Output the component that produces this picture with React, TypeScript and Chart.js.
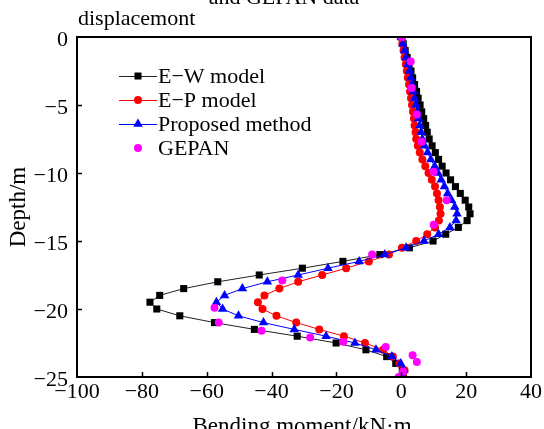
import React, { useEffect, useRef } from 'react';
import { Chart, registerables } from 'chart.js';

Chart.register(...registerables);

// ---- data ----
const titleLines = ['and GEPAN data', 'displacemont'];
const xTitle = 'Bending moment/kN\u00b7m';
const yTitle = 'Depth/m';
const xMin = -100;
const xMax = 40;
const xStep = 20;
const yMin = -25;
const yMax = 0;
const yStep = 5;

const seriesNames = ['E\u2212W model', 'E\u2212P model', 'Proposed method', 'GEPAN'];

const depths = [
  0, -0.5, -1, -1.5, -2, -2.5, -3, -3.5, -4, -4.5,
  -5, -5.5, -6, -6.5, -7, -7.5, -8, -8.5, -9, -9.5,
  -10, -10.5, -11, -11.5, -12, -12.5, -13, -13.5, -14, -14.5,
  -15, -15.5, -16, -16.5, -17, -17.5, -18, -18.5, -19, -19.5,
  -20, -20.5, -21, -21.5, -22, -22.5, -23, -23.5, -24, -24.5, -25,
];

const ewMoment = [
  0, 0.6, 1.2, 1.8, 2.4, 3.0, 3.5, 4.1, 4.7, 5.2,
  5.8, 6.3, 6.9, 7.5, 8.0, 8.6, 9.5, 10.5, 11.5, 12.6,
  13.8, 15.2, 16.7, 18.2, 19.7, 20.8, 21.2, 20.3, 17.6, 13.7,
  9.8, 2.5, -6.6, -18.0, -30.5, -43.8, -56.6, -67.1, -74.5, -77.5,
  -75.4, -68.3, -57.6, -45.3, -32.1, -20.1, -10.9, -4.5, -1.7, 0.3, 0.6,
];

const epMoment = [
  0, 0.3, 0.7, 1.0, 1.4, 1.7, 2.0, 2.4, 2.7, 3.0,
  3.3, 3.6, 3.9, 4.1, 4.4, 4.6, 5.1, 5.7, 6.5, 7.4,
  8.4, 9.4, 10.4, 11.0, 11.5, 11.9, 12.1, 11.6, 10.4, 8.0,
  4.6, 0.2, -3.8, -10.0, -17.0, -24.4, -31.8, -37.6, -42.2, -44.2,
  -42.8, -38.5, -32.4, -25.3, -17.7, -11.2, -5.6, -2.6, -0.6, 1.0, 0.6,
];

const proposedMoment = [
  0, 0.5, 1.0, 1.5, 2.0, 2.5, 2.9, 3.3, 3.7, 4.1,
  4.5, 4.9, 5.3, 5.7, 6.1, 6.5, 7.2, 8.1, 9.1, 10.3,
  11.3, 12.3, 13.3, 14.3, 15.5, 16.5, 17.2, 16.9, 15.0, 11.5,
  7.0, 1.5, -5.1, -13.0, -22.6, -31.8, -41.3, -49.0, -54.5, -57.0,
  -55.1, -50.2, -42.5, -33.0, -23.2, -14.3, -7.8, -2.9, -0.2, 0.8, 0.6,
];

const gepanDepth = [
  0, -1.8, -3.75, -5.7, -7.7, -9.9, -12, -13.8, -16, -17.9,
  -19.9, -21, -21.6, -22.1, -22.4, -22.8, -23.4, -23.9, -24.6, -25,
];
const gepanMoment = [
  0.2, 2.9, 3.2, 4.8, 6.3, 10, 14, 10, -9, -36.7,
  -57.6, -56.3, -43.1, -28.1, -17.9, -4.8, 3.5, 4.8, 0.5, -0.8,
];

const colors = ['#000000', '#ff0000', '#0000ff', '#ff00ff'];
const lineColors = ['#222222', '#ff0000', '#0000ff', '#ff00ff'];

const FONT = '"Liberation Serif", "Times New Roman", serif';

const fmt = (v: number) => (v < 0 ? '\u2212' + Math.abs(v) : String(v));

function drawMarker(ctx: CanvasRenderingContext2D, kind: number, x: number, y: number) {
  ctx.fillStyle = colors[kind];
  ctx.beginPath();
  if (kind === 0) {
    ctx.rect(x - 3.5, y - 3.5, 7, 7);
  } else if (kind === 1 || kind === 3) {
    ctx.arc(x, y, 4, 0, Math.PI * 2);
  } else {
    const r = 5.5;
    ctx.moveTo(x, y - r);
    ctx.lineTo(x + r * 0.866, y + r * 0.5);
    ctx.lineTo(x - r * 0.866, y + r * 0.5);
    ctx.closePath();
  }
  ctx.fill();
}

const decorPlugin = {
  id: 'decor',
  afterDraw(chart: any) {
    const { ctx, chartArea: a, scales } = chart;
    const xs = scales.x;
    const ys = scales.y;
    ctx.save();
    // frame
    ctx.strokeStyle = '#000';
    ctx.lineWidth = 2;
    ctx.strokeRect(a.left, a.top, a.right - a.left, a.bottom - a.top);
    // inward ticks
    ctx.lineWidth = 1.5;
    ctx.beginPath();
    for (let v = xMin + xStep; v < xMax; v += xStep) {
      const px = Math.round(xs.getPixelForValue(v)) + 0.5;
      ctx.moveTo(px, a.bottom);
      ctx.lineTo(px, a.bottom - 5);
    }
    for (let v = yMin + yStep; v < yMax; v += yStep) {
      const py = Math.round(ys.getPixelForValue(v)) + 0.5;
      ctx.moveTo(a.left, py);
      ctx.lineTo(a.left + 5, py);
    }
    ctx.stroke();

    // titles
    ctx.fillStyle = '#000';
    ctx.font = '22px ' + FONT;
    ctx.textBaseline = 'alphabetic';
    ctx.textAlign = 'center';
    ctx.fillText(titleLines[0], 284, 4);
    ctx.textAlign = 'left';
    ctx.fillText(titleLines[1], 78, 25);

    ctx.font = '23px ' + FONT;
    ctx.textAlign = 'center';
    ctx.fillText(xTitle, 302, 433);

    ctx.save();
    ctx.translate(25, 207);
    ctx.rotate(-Math.PI / 2);
    ctx.textAlign = 'center';
    ctx.fillText(yTitle, 0, 0);
    ctx.restore();

    // legend
    const rowsY = [76, 100, 124, 148];
    ctx.font = '22px ' + FONT;
    ctx.textAlign = 'left';
    ctx.textBaseline = 'middle';
    for (let i = 0; i < 4; i++) {
      const y = rowsY[i];
      if (i < 3) {
        ctx.strokeStyle = lineColors[i];
        ctx.lineWidth = 1;
        ctx.beginPath();
        ctx.moveTo(119, y + 0.5);
        ctx.lineTo(157, y + 0.5);
        ctx.stroke();
      }
      drawMarker(ctx, i, 138, y);
      ctx.fillStyle = '#000';
      ctx.fillText(seriesNames[i], 158, y + 1);
    }
    ctx.restore();
  },
};

export default function App() {
  const ref = useRef<HTMLCanvasElement | null>(null);

  useEffect(() => {
    document.body.style.margin = '0';
    const canvas = ref.current;
    if (!canvas) return;
    const mk = (xsArr: number[], ysArr: number[]) => xsArr.map((x, i) => ({ x, y: ysArr[i] }));
    const chart = new Chart(canvas, {
      type: 'scatter',
      data: {
        datasets: [
          {
            label: seriesNames[0],
            data: mk(ewMoment, depths),
            showLine: true,
            borderColor: lineColors[0],
            borderWidth: 1,
            pointStyle: 'rect',
            pointRadius: 5,
            pointBackgroundColor: colors[0],
            pointBorderWidth: 0,
            order: 3,
          },
          {
            label: seriesNames[1],
            data: mk(epMoment, depths),
            showLine: true,
            borderColor: lineColors[1],
            borderWidth: 1,
            pointStyle: 'circle',
            pointRadius: 4,
            pointBackgroundColor: colors[1],
            pointBorderWidth: 0,
            order: 2,
          },
          {
            label: seriesNames[2],
            data: mk(proposedMoment, depths),
            showLine: true,
            borderColor: lineColors[2],
            borderWidth: 1,
            pointStyle: 'triangle',
            pointRadius: 5.5,
            pointBackgroundColor: colors[2],
            pointBorderWidth: 0,
            order: 1,
          },
          {
            label: seriesNames[3],
            data: mk(gepanMoment, gepanDepth),
            showLine: false,
            pointStyle: 'circle',
            pointRadius: 4,
            pointBackgroundColor: colors[3],
            pointBorderWidth: 0,
            order: 0,
          },
        ],
      },
      options: {
        responsive: false,
        animation: false,
        events: [],
        layout: { padding: { top: 37, right: 12, left: 0, bottom: 0 } },
        plugins: {
          legend: { display: false },
          tooltip: { enabled: false },
          title: { display: false },
        },
        scales: {
          x: {
            type: 'linear',
            min: xMin,
            max: xMax,
            grid: { display: false, drawTicks: false },
            border: { display: false },
            ticks: {
              stepSize: xStep,
              padding: 2,
              color: '#000',
              font: { family: FONT, size: 22 },
              maxRotation: 0,
              callback: (v: any) => fmt(Number(v)),
            },
            afterFit: (s: any) => {
              s.height = 52;
            },
          },
          y: {
            type: 'linear',
            min: yMin,
            max: yMax,
            grid: { display: false, drawTicks: false },
            border: { display: false },
            ticks: {
              stepSize: yStep,
              padding: 9,
              labelOffset: 3,
              color: '#000',
              font: { family: FONT, size: 22 },
              callback: (v: any) => fmt(Number(v)),
            },
            afterFit: (s: any) => {
              s.width = 77;
            },
          },
        },
      },
      plugins: [decorPlugin],
    });
    return () => chart.destroy();
  }, []);

  return (
    <div style={{ position: 'absolute', left: 0, top: 0, width: 544, height: 429 }}>
      <canvas ref={ref} width={544} height={429} style={{ display: 'block', width: 544, height: 429 }} />
    </div>
  );
}
